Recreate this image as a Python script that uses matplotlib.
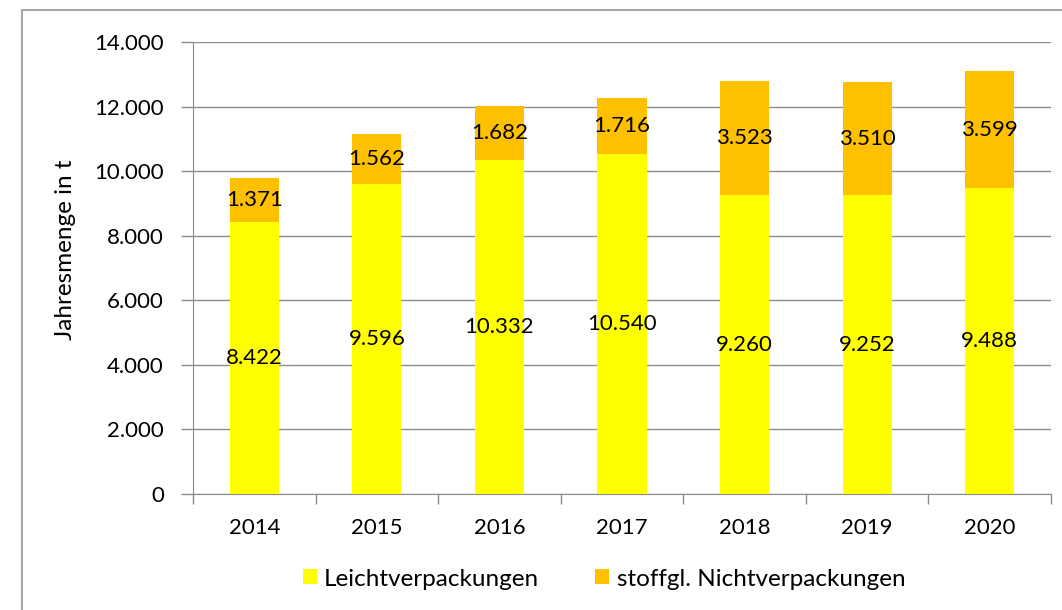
import matplotlib
matplotlib.use("Agg")
import matplotlib.pyplot as plt
from matplotlib.lines import Line2D
from matplotlib.patches import Patch
from matplotlib.ticker import FuncFormatter, FixedLocator

years = ["2014", "2015", "2016", "2017", "2018", "2019", "2020"]
leicht = [8422, 9596, 10332, 10540, 9260, 9252, 9488]
stoffgl = [1371, 1562, 1682, 1716, 3523, 3510, 3599]
series_names = ["Leichtverpackungen", "stoffgl. Nichtverpackungen"]
colors = ["#FFFF00", "#FFC000"]

plt.rcParams['font.family'] = ['Lato', 'DejaVu Sans']
FS = 16
FS_TXT = 17.5
grid_c = "#8c8c8c"

def de(v):
    return f"{int(v):,}".replace(",", ".")

fig = plt.figure(figsize=(10.62, 6.10), dpi=100)
ax = fig.add_axes([193/1062, (610-494)/610, (1051-193)/1062, (494-42)/610])

x = list(range(len(years)))
ax.bar(x, leicht, width=0.4, color=colors[0], zorder=3)
ax.bar(x, stoffgl, width=0.4, bottom=leicht, color=colors[1], zorder=3)

for xi, l, s in zip(x, leicht, stoffgl):
    ax.text(xi, l/2, de(l), ha="center", va="center", fontsize=FS, color="black", zorder=4)
    ax.text(xi, l + s/2, de(s), ha="center", va="center", fontsize=FS, color="black", zorder=4)

ax.set_xlim(-0.5, len(years) - 0.5)
ax.set_ylim(0, 14000)
ax.set_yticks(range(0, 14001, 2000))
ax.yaxis.set_major_formatter(FuncFormatter(lambda v, p: de(v)))
ax.set_xticks(x)
ax.set_xticklabels(years)
ax.xaxis.set_minor_locator(FixedLocator([i - 0.5 for i in range(len(years) + 1)]))
ax.tick_params(axis="x", which="major", length=0, pad=17, labelsize=FS)
ax.tick_params(axis="x", which="minor", length=7, color=grid_c, width=1)
ax.tick_params(axis="y", which="major", length=9, color=grid_c, width=1, labelsize=FS, pad=12)

ax.grid(axis="y", color=grid_c, linewidth=1, zorder=0)
for side in ["top", "right"]:
    ax.spines[side].set_visible(False)
ax.spines["left"].set_color(grid_c)
ax.spines["bottom"].set_color(grid_c)

ax.set_ylabel("Jahresmenge in t", fontsize=FS_TXT)
ax.yaxis.set_label_coords(-0.136, 0.54)

handles = [Patch(facecolor=c, edgecolor="none") for c in colors]
fig.legend(handles, series_names, loc="center", bbox_to_anchor=(604/1062, 1 - 579/610),
           ncol=2, frameon=False, fontsize=FS_TXT, handlelength=0.58, handleheight=0.58,
           handletextpad=0.3, columnspacing=2.3)

# outer chart frame (left and top visible)
fig.add_artist(Line2D([22/1062, 22/1062], [0, 1 - 10/610], transform=fig.transFigure, color="#a6a6a6", lw=1.5))
fig.add_artist(Line2D([22/1062, 1], [1 - 10/610, 1 - 10/610], transform=fig.transFigure, color="#a6a6a6", lw=1.5))

fig.savefig("out.png", dpi=100)
